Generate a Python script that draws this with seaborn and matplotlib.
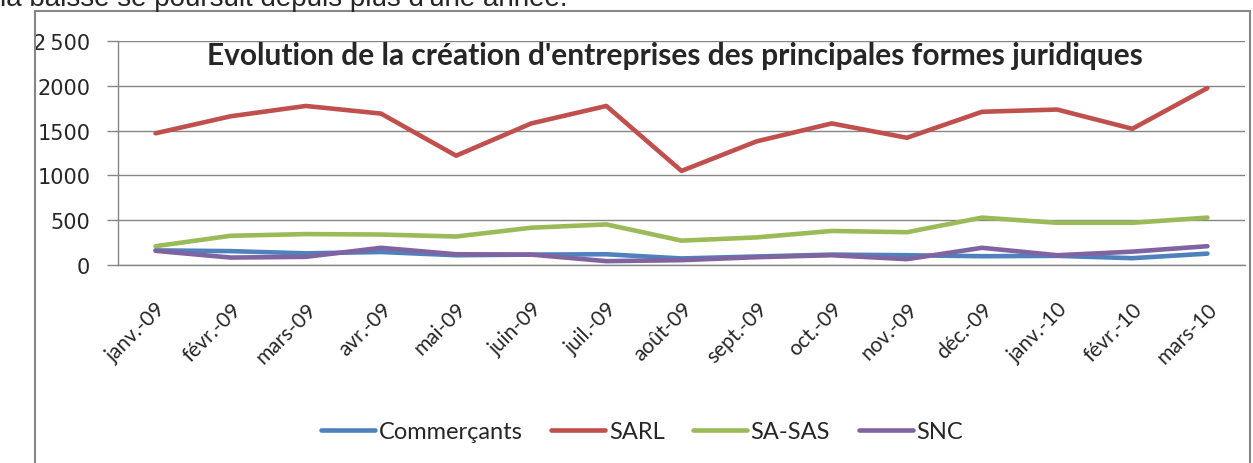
import numpy as np
import pandas as pd
import matplotlib
matplotlib.use("Agg")
import matplotlib.pyplot as plt
from matplotlib.patches import Rectangle
from matplotlib.lines import Line2D
import seaborn as sns

# %%
months = ["janv.-09", "févr.-09", "mars-09", "avr.-09", "mai-09", "juin-09",
          "juil.-09", "août-09", "sept.-09", "oct.-09", "nov.-09", "déc.-09",
          "janv.-10", "févr.-10", "mars-10"]
commercants = [163, 155, 130, 145, 109, 116, 120, 73, 95, 116, 109, 98, 102, 76, 127]
sarl = [1470, 1660, 1775, 1690, 1220, 1580, 1775, 1050, 1380, 1580, 1420, 1710, 1735, 1520, 1975]
sa_sas = [210, 326, 345, 340, 318, 416, 453, 272, 308, 380, 366, 529, 471, 471, 529]
snc = [158, 83, 91, 192, 120, 116, 43, 54, 87, 109, 65, 192, 109, 149, 210]
series = ["Commerçants", "SARL", "SA-SAS", "SNC"]
colors = ["#4F81BD", "#C0504D", "#9BBB59", "#8064A2"]
yticks = [0, 500, 1000, 1500, 2000, 2500]
ytick_labels = ["0", "500", "1000", "1500", "2000", "2\u2009500"]

df = pd.DataFrame({"mois": months, "Commerçants": commercants, "SARL": sarl,
                   "SA-SAS": sa_sas, "SNC": snc})
df["pos"] = np.arange(len(months))
long = df.melt(id_vars=["mois", "pos"], value_vars=series, var_name="forme", value_name="n")

# %%
sns.set_style("white")
plt.rcParams["font.family"] = ["Lato", "DejaVu Sans"]

fig = plt.figure(figsize=(12.53, 4.64), dpi=100)
ax = fig.add_axes([118 / 1253, 1 - 266 / 464, 1127 / 1253, 224 / 464])

sns.lineplot(data=long, x="pos", y="n", hue="forme", hue_order=series,
             palette=colors, linewidth=3.3, ax=ax, legend=False)

ax.set_xlim(-0.5, len(months) - 0.5)
ax.set_ylim(0, 2500)
ax.set_yticks(yticks)
ax.set_yticklabels(ytick_labels, fontsize=15, family="DejaVu Sans")
ax.set_xticks(np.arange(len(months)))
ax.set_xticklabels(months, rotation=45, ha="right", rotation_mode="anchor", fontsize=15)
ax.set_xticks(np.arange(-0.5, len(months)), minor=True)
ax.tick_params(axis="x", which="major", length=0, pad=24)
ax.tick_params(axis="x", which="minor", length=8, color="#868686", width=1)
ax.tick_params(axis="y", length=8, color="#868686", width=1, pad=12, left=True)
ax.yaxis.grid(True, color="#868686", linewidth=1)
ax.set_axisbelow(True)
for s in ["top", "right"]:
    ax.spines[s].set_visible(False)
for s in ["left", "bottom"]:
    ax.spines[s].set_color("#868686")
    ax.spines[s].set_linewidth(1)
ax.set_xlabel("")
ax.set_ylabel("")

ax.set_title("Evolution de la création d'entreprises des principales formes juridiques",
             fontsize=21.5, fontweight="bold", y=0.86, x=0.494)

handles = [Line2D([0], [0], color=c, linewidth=3.3) for c in colors]
fig.legend(handles, series, loc="center", bbox_to_anchor=(642 / 1253, 1 - 433 / 464),
           ncol=4, frameon=False, fontsize=17, handlelength=2.3, handletextpad=0.15,
           columnspacing=1.2)

# cadre du graphique + texte coupé au-dessus
fig.patches.append(Rectangle((35 / 1253, -0.01), 1215 / 1253, 1 - 12 / 464 + 0.01,
                             transform=fig.transFigure, fill=False,
                             edgecolor="#868686", linewidth=1.5))
fig.text(0.0, 1 - 6 / 464, "la baisse se poursuit depuis plus d'une année.",
         fontsize=20, family=["Liberation Sans", "DejaVu Sans"], va="baseline", ha="left")

fig.savefig("out.png", dpi=100)
